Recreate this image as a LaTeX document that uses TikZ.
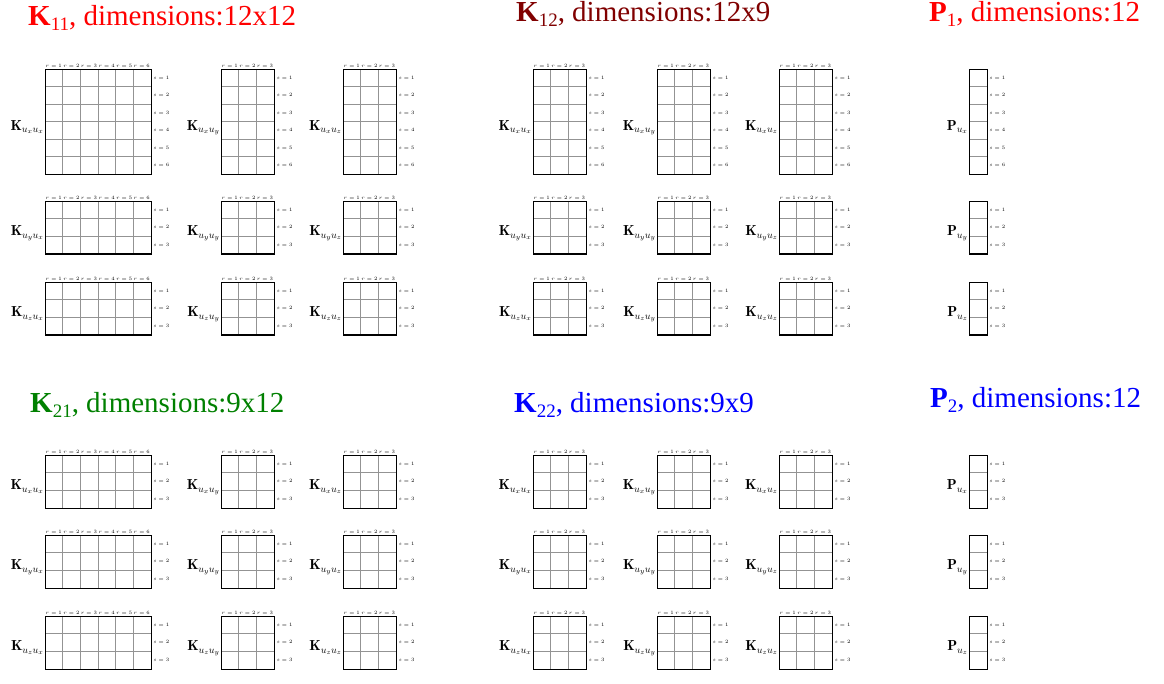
\documentclass[tikz,border=0pt]{standalone}
\usepackage{amsmath}
\usepackage{fontspec}
\newfontfamily\titlefont{Liberation Serif}
\usepackage{tikz}

\definecolor{darkred}{RGB}{128,0,0}
\definecolor{darkgreen}{RGB}{0,128,0}

\def\cellw{17.6}
\def\cellh{17.5}

% one block: #1,#2 top-left corner, #3 columns, #4 rows, #5 label, #6 node name
\newcommand{\matblock}[6]{%
  \pgfmathtruncatemacro\lastcol{#3-1}%
  \pgfmathtruncatemacro\lastrow{#4-1}%
  \ifnum#3>1
    \foreach \i in {1,...,\lastcol}
      \draw[gridline] ({#1+\i*\cellw},#2) -- ++(0,{#4*\cellh});
    \foreach \i in {1,...,#3}
      \node[rlabel] at ({#1+(\i-0.5)*\cellw},{#2-1.6}) {$r=\i$};
  \fi
  \foreach \j in {1,...,\lastrow}
    \draw[gridline] (#1,{#2+\j*\cellh}) -- ++({#3*\cellw},0);
  \foreach \j in {1,...,#4}
    \node[slabel] at ({#1+#3*\cellw+2.5},{#2+(\j-0.5)*\cellh}) {$s=\j$};
  \node[matbox, minimum width={#3*\cellw}, minimum height={#4*\cellh}] (#6) at (#1,#2) {};
  \node[matlabel] (#6-lab) at ([yshift=-8pt]#6.west) {#5};
}

\begin{document}
\begin{tikzpicture}[
      x=1pt, y=-1pt,
      gridline/.style={draw=gray!85, line width=0.6pt},
      matbox/.style={draw=black, line width=1.4pt, rectangle, inner sep=0pt, anchor=north west},
      matlabel/.style={anchor=base east, inner sep=0.8pt, font=\fontsize{14.5}{16}\selectfont},
      rlabel/.style={anchor=base, inner sep=0pt, font=\fontsize{5.5}{6}\selectfont},
      slabel/.style={anchor=west, inner sep=0pt, font=\fontsize{5.5}{6}\selectfont},
      title/.style={anchor=base west, inner sep=0pt, font=\titlefont\fontsize{29}{32}\selectfont}
    ]
      \useasboundingbox (0,0) rectangle (1164,684);

      % ---------- Titles ----------
      \node[title, text=red] (t11) at (28,25.5)
        {{\bfseries K}\raisebox{-5pt}{\fontsize{19}{21}\selectfont 11}, dimensions:12x12};
      \node[title, text=darkred] (t12) at (516,22)
        {{\bfseries K}\raisebox{-5pt}{\fontsize{19}{21}\selectfont 12}, dimensions:12x9};
      \node[title, text=red] (tp1) at (929,22)
        {{\bfseries P}\raisebox{-5pt}{\fontsize{19}{21}\selectfont 1}, dimensions:12};
      \node[title, text=darkgreen] (t21) at (30,412)
        {{\bfseries K}\raisebox{-5pt}{\fontsize{19}{21}\selectfont 21}, dimensions:9x12};
      \node[title, text=blue] (t22) at (514,412)
        {{\bfseries K}\raisebox{-5pt}{\fontsize{19}{21}\selectfont 22}, dimensions:9x9};
      \node[title, text=blue] (tp2) at (930,407)
        {{\bfseries P}\raisebox{-5pt}{\fontsize{19}{21}\selectfont 2}, dimensions:12};

      % ---------- K11, K12, P1 ----------
      \foreach \rowy/\nrow/\rowi in {69/6/x, 201/3/y, 282/3/z}{
        \foreach \colx/\ncol/\coli in {45/6/x, 221/3/y, 343/3/z}{
          \matblock{\colx}{\rowy}{\ncol}{\nrow}{$\mathbf{K}_{u_\rowi u_\coli}$}{ka\rowi\coli}
        }
        \foreach \colx/\coli in {533/x, 657/y, 779/z}{
          \matblock{\colx}{\rowy}{3}{\nrow}{$\mathbf{K}_{u_\rowi u_\coli}$}{kb\rowi\coli}
        }
        \matblock{969}{\rowy}{1}{\nrow}{$\mathbf{P}_{u_\rowi}$}{pa\rowi}
      }

      % ---------- K21, K22, P2 ----------
      \foreach \rowy/\rowi in {455/x, 535/y, 616/z}{
        \foreach \colx/\ncol/\coli in {45/6/x, 221/3/y, 343/3/z}{
          \matblock{\colx}{\rowy}{\ncol}{3}{$\mathbf{K}_{u_\rowi u_\coli}$}{kc\rowi\coli}
        }
        \foreach \colx/\coli in {533/x, 657/y, 779/z}{
          \matblock{\colx}{\rowy}{3}{3}{$\mathbf{K}_{u_\rowi u_\coli}$}{kd\rowi\coli}
        }
        \matblock{969}{\rowy}{1}{3}{$\mathbf{P}_{u_\rowi}$}{pb\rowi}
      }

    \end{tikzpicture}
\end{document}
